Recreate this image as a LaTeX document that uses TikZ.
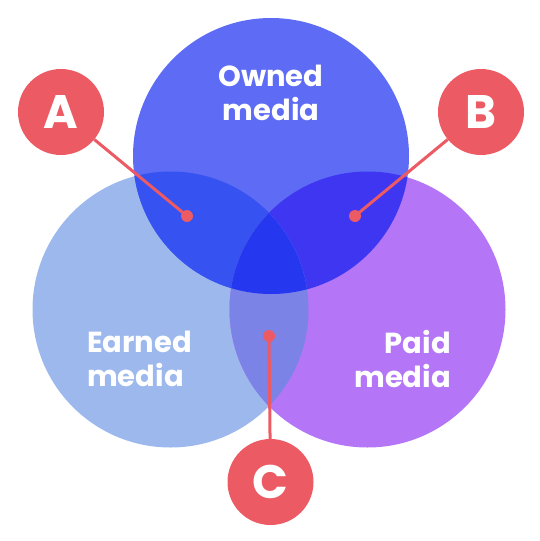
\documentclass[tikz,border=0pt]{standalone}
\usepackage{fontspec}
\setmainfont{Poppins}
\usetikzlibrary{positioning}

\definecolor{ownedblue}{RGB}{94,108,245}
\definecolor{earnedblue}{RGB}{157,184,237}
\definecolor{paidpurple}{RGB}{180,118,246}
\definecolor{oecol}{RGB}{54,82,240}
\definecolor{opcol}{RGB}{63,54,242}
\definecolor{epcol}{RGB}{123,131,230}
\definecolor{allcol}{RGB}{37,56,240}
\definecolor{markred}{RGB}{236,90,100}

\tikzset{
  setlabel/.style={text=white, inner sep=0pt, align=#1,
    font=\fontsize{29}{34.5}\selectfont\bfseries},
  letterdot/.style={circle, fill=markred, minimum size=86pt, inner sep=0pt,
    text=white, font=\fontsize{47}{47}\selectfont\bfseries},
  pointer/.style={markred, line width=3pt}
}

\begin{document}
\begin{tikzpicture}[x=1pt, y=-1pt]
    \useasboundingbox (0,0) rectangle (540,541);
    % Set centres
    \coordinate (owned) at (271,156);
    \coordinate (earned) at (170.5,309.5);
    \coordinate (paid) at (367.5,309.5);
    \def\rad{138}
    % Base circles
    \fill[earnedblue] (earned) circle (\rad);
    \fill[paidpurple] (paid) circle (\rad);
    \fill[ownedblue] (owned) circle (\rad);
    % Overlaps
    \begin{scope}
      \clip (owned) circle (\rad);
      \fill[oecol] (earned) circle (\rad);
      \fill[opcol] (paid) circle (\rad);
    \end{scope}
    \begin{scope}
      \clip (earned) circle (\rad);
      \fill[epcol] (paid) circle (\rad);
      \clip (paid) circle (\rad);
      \fill[allcol] (owned) circle (\rad);
    \end{scope}
    % Set names
    \node[setlabel=center] (ownedtxt) at (271,93) {Owned\\media};
    \node[setlabel=left, anchor=west] (earnedtxt) at (87,359) {Earned\\media};
    \node[setlabel=right, anchor=east] (paidtxt) at (451,359) {Paid\\media};
    % Markers in the overlaps
    \coordinate (dotA) at (187,216);
    \coordinate (dotB) at (355,216);
    \coordinate (dotC) at (269,336);
    \node[letterdot] (A) at (61,112) {A};
    \node[letterdot] (B) at (481,112) {B};
    \node[letterdot] (C) at (270.5,482) {C};
    \draw[pointer] (A) -- (dotA);
    \draw[pointer] (B) -- (dotB);
    \draw[pointer] (C) -- (dotC);
    \foreach \d in {dotA,dotB,dotC}
      \fill[markred] (\d) circle (6);
\end{tikzpicture}
\end{document}
